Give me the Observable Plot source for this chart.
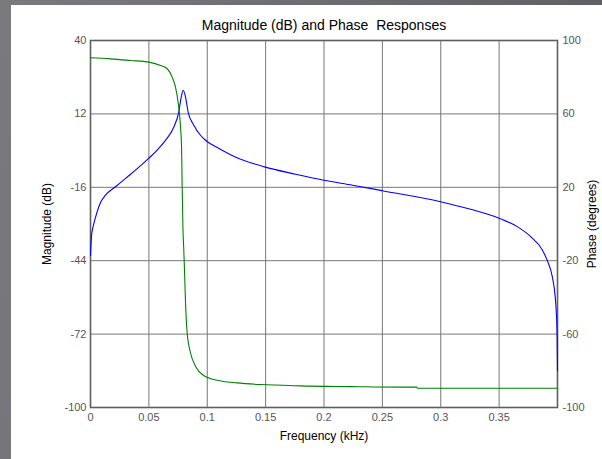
<!DOCTYPE html>
<html><head><meta charset="utf-8">
<script src="https://cdn.jsdelivr.net/npm/d3@7"></script>
<script src="https://cdn.jsdelivr.net/npm/@observablehq/plot@0.6"></script>
<style>
html,body{margin:0;padding:0;}
body{width:602px;height:459px;background:linear-gradient(100deg,#7a797e 0%,#6c6b71 50%,#5c5b61 100%);position:relative;overflow:hidden;}
#panel{position:absolute;left:11px;top:5px;width:591px;height:454px;background:#fff;}
</style></head><body><div id="panel"></div>
<script>
// Magnitude response (dB) vs frequency (kHz)
const magFreq = [0, 0.001, 0.002, 0.0043, 0.0086, 0.0128, 0.0214, 0.030, 0.040, 0.050, 0.0575, 0.0642, 0.0714, 0.0756, 0.0777, 0.0794, 0.0814, 0.0837, 0.0885, 0.0942, 0.0985, 0.110, 0.124, 0.149, 0.1756, 0.200, 0.2245, 0.244, 0.25, 0.2998, 0.3255, 0.35, 0.3655, 0.377, 0.387, 0.391, 0.3955, 0.398, 0.399, 0.3997, 0.4];
const magDb   = [-42, -34, -31.5, -27.5, -21.8, -19.0, -15.8, -12.6, -8.9, -4.9, -1.6, 1.9, 7, 12.7, 18.4, 21, 18.4, 12.5, 7.7, 3.85, 1.95, -1.2, -4.4, -8.2, -11.0, -13.3, -15.2, -16.8, -17.3, -21.5, -24.4, -27.8, -31, -34.8, -39.9, -43.7, -50, -57.7, -64, -73, -86];
// Phase response (degrees) vs frequency (kHz)
const phFreq = [0, 0.0171, 0.0343, 0.05, 0.06, 0.0657, 0.07, 0.0728, 0.0748, 0.0762, 0.0771, 0.078, 0.0785, 0.0792, 0.0799, 0.0805, 0.0814, 0.0828, 0.0857, 0.0899, 0.097, 0.1085, 0.1256, 0.1456, 0.18, 0.2227, 0.2655, 0.2795, 0.28, 0.4];
const phDeg  = [90.6, 90, 89.1, 88.2, 86.4, 84.6, 80, 74.6, 67.4, 60, 52.9, 42, 20.6, -3, -14, -25, -43, -59.4, -70.3, -77.5, -82.6, -85.2, -86.6, -87.5, -88.2, -88.6, -88.9, -88.9, -89.5, -89.5];
// Tick labels
const xTicks = [0, 0.05, 0.1, 0.15, 0.2, 0.25, 0.3, 0.35];
const magTicks = [-100, -72, -44, -16, 12, 40];
const phaseTicks = [-100, -60, -20, 20, 60, 100];

const magData = magFreq.map((f, i) => ({f, v: magDb[i]}));
const phData = phFreq.map((f, i) => ({f, v: phDeg[i]}));
// map phase (degrees, [-100,100]) onto magnitude scale ([-100,40])
const phToMag = p => -100 + (p + 100) * 140 / 200;
const phaseLabel = new Map(magTicks.map((m, i) => [m, String(phaseTicks[i])]));

const font = '"Liberation Sans", Arial, sans-serif';
const chart = Plot.plot({
  width: 591, height: 454,
  marginLeft: 79, marginRight: 45, marginTop: 35, marginBottom: 52,
  style: {fontFamily: font, fontSize: "11px", color: "#555", background: "transparent"},
  x: {domain: [0, 0.4]},
  y: {domain: [-100, 40]},
  marks: [
    Plot.gridX(xTicks, {stroke: "#777", strokeOpacity: 1}),
    Plot.gridY(magTicks, {stroke: "#777", strokeOpacity: 1}),
    Plot.frame({stroke: "#5e5e5e", strokeWidth: 1.6}),
    Plot.line(magData, {x: "f", y: "v", stroke: "#0000ff", strokeWidth: 1.1, curve: "monotone-x"}),
    Plot.line(phData, {x: "f", y: d => phToMag(d.v), stroke: "#008000", strokeWidth: 1.1, curve: "monotone-x"}),
    Plot.axisX(xTicks, {tickSize: 0, tickPadding: 6, tickFormat: d => String(+d.toFixed(2)), label: null}),
    Plot.axisY(magTicks, {anchor: "left", tickSize: 0, tickPadding: 4, tickFormat: d => String(d), label: null}),
    Plot.axisY(magTicks, {anchor: "right", tickSize: 0, tickPadding: 5, tickFormat: d => phaseLabel.get(d), label: null}),
    Plot.text(["Magnitude (dB) and Phase  Responses"], {frameAnchor: "top", dy: -15, fontSize: 14, fill: "#000", textAnchor: "middle", lineAnchor: "middle"}),
    Plot.text(["Frequency (kHz)"], {frameAnchor: "bottom", dy: 29, fontSize: 12, fill: "#000", textAnchor: "middle", lineAnchor: "middle"}),
    Plot.text(["Magnitude (dB)"], {frameAnchor: "left", dx: -43, rotate: -90, fontSize: 12, fill: "#000", textAnchor: "middle", lineAnchor: "middle"}),
    Plot.text(["Phase (degrees)"], {frameAnchor: "right", dx: 35, rotate: -90, fontSize: 12, fill: "#000", textAnchor: "middle", lineAnchor: "middle"})
  ]
});
document.getElementById("panel").appendChild(chart);
</script>
</body></html>
